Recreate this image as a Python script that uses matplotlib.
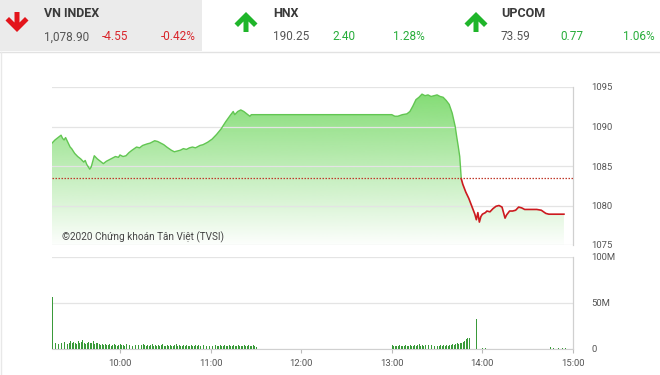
import numpy as np
import matplotlib
matplotlib.use("Agg")
import matplotlib.pyplot as plt
from matplotlib.patches import Polygon, Rectangle

plt.rcParams['font.family'] = ['Roboto', 'DejaVu Sans']

# header quotes
idx_names = ['VN INDEX', 'HNX', 'UPCOM']
idx_values = ['1,078.90', '190.25', '73.59']
idx_changes = ['-4.55', '2.40', '0.77']
idx_pcts = ['-0.42%', '1.28%', '1.06%']
idx_up = [False, True, True]

# intraday VN-Index
price_times = ['09:15', '09:17', '09:19', '09:21', '09:22', '09:23', '09:24', '09:25', '09:27', '09:28',
               '09:30', '09:32', '09:34', '09:36', '09:37', '09:38', '09:40', '09:41', '09:43', '09:45',
               '09:47', '09:49', '09:51', '09:53', '09:55', '09:57', '09:59', '10:00', '10:02', '10:04',
               '10:06', '10:08', '10:11', '10:13', '10:15', '10:18', '10:20', '10:23', '10:25', '10:27',
               '10:29', '10:31', '10:34', '10:36', '10:38', '10:40', '10:42', '10:44', '10:46', '10:48',
               '10:50', '10:53', '10:55', '10:58', '11:01', '11:04', '11:07', '11:10', '11:13', '11:15',
               '11:16', '11:18', '11:20', '11:22', '11:24', '11:26', '11:27', '11:29', '13:00', '13:02',
               '13:04', '13:07', '13:10', '13:12', '13:14', '13:16', '13:18', '13:20', '13:22', '13:24',
               '13:26', '13:28', '13:30', '13:32', '13:34', '13:36', '13:38', '13:40', '13:42', '13:43',
               '13:44', '13:45', '13:46', '13:47', '13:49', '13:51', '13:53', '13:55', '13:56', '13:57',
               '13:58', '13:59', '14:00', '14:02', '14:03', '14:05', '14:07', '14:09', '14:11', '14:13',
               '14:15', '14:16', '14:18', '14:20', '14:22', '14:24', '14:26', '14:28', '14:30', '14:36',
               '14:39', '14:42', '14:44', '14:54']
price_values = [1087.9, 1088.3, 1088.6, 1088.9, 1088.5, 1088.3, 1088.6, 1088.2, 1087.4, 1087.2,
                1086.6, 1086.2, 1085.9, 1085.5, 1085.7, 1085.2, 1084.6, 1084.9, 1086.3, 1085.9,
                1085.6, 1085.3, 1085.6, 1085.8, 1086.0, 1086.2, 1086.1, 1086.4, 1086.2, 1086.3,
                1086.7, 1087.0, 1087.4, 1087.3, 1087.6, 1087.8, 1087.9, 1088.2, 1088.1, 1087.9,
                1087.7, 1087.4, 1087.0, 1086.8, 1086.9, 1087.0, 1087.2, 1087.1, 1087.3, 1087.4,
                1087.3, 1087.6, 1087.7, 1088.0, 1088.4, 1089.0, 1089.7, 1090.6, 1091.4, 1091.9,
                1091.5, 1091.9, 1092.1, 1091.9, 1091.6, 1091.3, 1091.5, 1091.5, 1091.5, 1091.3,
                1091.3, 1091.5, 1091.6, 1091.9, 1092.6, 1093.4, 1093.7, 1094.1, 1093.9, 1094.0,
                1093.8, 1093.9, 1094.0, 1093.8, 1093.7, 1093.3, 1092.8, 1091.7, 1090.0, 1088.7,
                1087.5, 1086.2, 1083.4, 1082.7, 1081.7, 1080.9, 1079.9, 1078.9, 1078.2, 1079.1,
                1077.9, 1078.6, 1078.9, 1079.1, 1079.3, 1079.2, 1079.6, 1079.9, 1080.0, 1079.8,
                1078.4, 1078.8, 1079.3, 1079.3, 1079.4, 1079.8, 1079.7, 1079.5, 1079.5, 1079.5,
                1079.4, 1079.0, 1078.9, 1078.9]
ref_price = 1083.45

# volume (millions), one bar per minute
am_start = '09:15'
am_volume = [57,
             7, 6, 8, 5, 9, 7, 6, 8, 10, 5, 7, 9, 6, 8, 7, 5, 9, 6, 8, 10, 7, 5, 6, 8, 7, 6, 9, 5, 7, 6,
             5, 4, 5, 4, 5, 4, 4, 5, 3, 4, 5, 4, 3, 4, 5, 4, 4, 3, 5, 4, 4, 5, 3, 4, 4, 5, 4, 3, 4, 5,
             4, 3, 4, 3, 4, 5, 3, 4, 3, 4, 3, 4, 5, 3, 3, 4, 3, 4, 3, 3, 4, 5, 3, 4, 3, 3, 4, 3, 4, 3,
             3, 4, 3, 3, 4, 3, 4, 3, 3, 4, 3, 3, 5, 3, 4, 3, 3, 4, 3, 3, 4, 3, 3, 4, 3, 3, 4, 3, 3, 4,
             3, 3, 4, 3, 3, 3, 4, 3, 3, 4, 3, 3, 4, 3, 2]
pm_start = '13:00'
pm_volume = [4, 3, 3, 3, 3, 4, 3, 3, 3, 4, 3, 3, 4, 3, 3, 4, 3, 4, 5, 3,
             4, 3, 4, 5, 4, 3, 4, 3, 3, 4, 3, 3, 4, 3, 4, 3, 4, 3, 4, 4,
             5, 4, 5, 6, 5, 6, 7, 8, 9, 11, 12, 12]
late_times = ['13:56', '14:00', '14:01', '14:02', '14:17', '14:20', '14:23', '14:26',
              '14:45', '14:47', '14:50', '14:53', '14:55']
late_volume = [33, 1, 0.5, 1, 0.5, 0.5, 0.5, 0.5, 2.5, 1, 0.8, 1, 0.8]

hour_ticks = ['10:00', '11:00', '12:00', '13:00', '14:00', '15:00']


def to_min(s):
    h, m = s.split(':')
    return int(h) * 60 + int(m)


t_price = np.array([to_min(s) for s in price_times])
p = np.array(price_values)
t_am = to_min(am_start) + np.arange(len(am_volume))
t_pm = to_min(pm_start) + np.arange(len(pm_volume))
t_vol = np.concatenate([t_am, t_pm, [to_min(s) for s in late_times]])
vol = np.concatenate([am_volume, pm_volume, late_volume]) * 1e6

x0, x1 = to_min('09:15'), to_min('15:00')

fig = plt.figure(figsize=(6.6, 3.75), dpi=100)
fig.patch.set_facecolor('white')

# background / header layer in pixel coords
bg = fig.add_axes([0, 0, 1, 1], zorder=-1)
bg.set_xlim(0, 660)
bg.set_ylim(375, 0)
bg.axis('off')
bg.add_patch(Rectangle((0, 0), 202, 51, color='#ebebeb', lw=0))
bg.plot([0, 660], [52, 52], color='#e2e2e2', lw=1)
bg.plot([1, 1], [52, 375], color='#e8e8e8', lw=1)

red = '#d9262c'
green = '#27ad3a'
arrow_x = [17, 246, 476]
text_x = [44, 273, 501]
chg_x = [102, 332, 560]
pct_x = [196, 425, 655]
for i in range(3):
    cx = arrow_x[i]
    pts = [(-2.5, 12), (2.5, 12), (2.5, 22.5), (8, 17), (11.5, 20.5), (0, 32),
           (-11.5, 20.5), (-8, 17), (-2.5, 22.5)]
    if idx_up[i]:
        pts = [(x, 44 - y) for x, y in pts]
    col = '#1fb52a' if idx_up[i] else '#e3141b'
    bg.add_patch(Polygon([(cx + x, y) for x, y in pts], closed=True, color=col, lw=0))
    tc = green if idx_up[i] else red
    bg.text(text_x[i], 13.5, idx_names[i], fontsize=9, fontweight='bold', color='#3a3a3a',
            va='center', ha='left')
    bg.text(text_x[i], 37, idx_values[i], fontsize=8.5, color='#555555', va='center', ha='left')
    bg.text(chg_x[i], 37, idx_changes[i], fontsize=8.5, color=tc, va='center', ha='left')
    bg.text(pct_x[i], 37, idx_pcts[i], fontsize=8.5, color=tc, va='center', ha='right')

grid_c = '#e4e4e4'
lab_c = '#555555'

# price chart
ax = fig.add_axes([52 / 660, 1 - 245 / 375, 521 / 660, 158 / 375])
ax.set_facecolor('none')
ax.set_xlim(x0, x1)
ax.set_ylim(1075, 1095)

fb = ax.fill_between(t_price, p, 1075, facecolor='none', edgecolor='none')
grad = np.zeros((256, 1, 4))
grad[:, 0, 0] = 0x78 / 255
grad[:, 0, 1] = 0xd9 / 255
grad[:, 0, 2] = 0x68 / 255
grad[:, 0, 3] = np.linspace(0.02, 0.95, 256)
im = ax.imshow(grad, extent=[x0, x1, 1075, 1095], origin='lower', aspect='auto', zorder=1)
im.set_clip_path(fb.get_paths()[0], transform=ax.transData)

cross = price_times.index('13:46')
ax.plot(t_price[:cross + 1], p[:cross + 1], color='#62c652', lw=1.0, zorder=3)
ax.plot(t_price[cross:], p[cross:], color='#cc1a1f', lw=1.2, zorder=3)
ax.axhline(ref_price, color='#c0392b', lw=0.9, ls=(0, (1.2, 1.2)), zorder=4)

ax.set_yticks([1075, 1080, 1085, 1090, 1095])
ax.yaxis.tick_right()
ax.tick_params(axis='y', length=0, pad=13, labelsize=6.8, labelcolor=lab_c)
ax.set_xticks([])
ax.grid(axis='y', color=grid_c, lw=0.9)
for s in ['left', 'top', 'bottom']:
    ax.spines[s].set_visible(False)
ax.spines['right'].set_color('#d0d0d0')
ax.spines['right'].set_linewidth(0.9)
ax.text(0.019, 0.05, '©2020 Chứng khoán Tân Việt (TVSI)', transform=ax.transAxes,
        fontsize=7.2, color='#444444', va='center', ha='left', zorder=5)

# volume chart
av = fig.add_axes([52 / 660, 1 - 349 / 375, 521 / 660, 92 / 375])
av.set_facecolor('none')
av.set_xlim(x0, x1)
av.set_ylim(0, 100e6)
av.bar(t_vol, vol, width=0.6, color='#3a9a3a', align='edge', zorder=3)
av.set_yticks([0, 50e6, 100e6])
av.set_yticklabels(['0', '50M', '100M'])
av.yaxis.tick_right()
av.tick_params(axis='y', length=0, pad=13, labelsize=6.8, labelcolor=lab_c)
av.set_xticks([to_min(s) for s in hour_ticks])
av.set_xticklabels(hour_ticks)
av.tick_params(axis='x', length=3, width=0.8, color='#bbbbbb', labelsize=6.8, labelcolor=lab_c, pad=4)
av.grid(axis='y', color=grid_c, lw=0.9)
for s in ['left', 'top']:
    av.spines[s].set_visible(False)
av.spines['bottom'].set_color('#d0d0d0')
av.spines['right'].set_color('#d0d0d0')
av.spines['right'].set_linewidth(0.9)

fig.savefig('out.png', dpi=100)
